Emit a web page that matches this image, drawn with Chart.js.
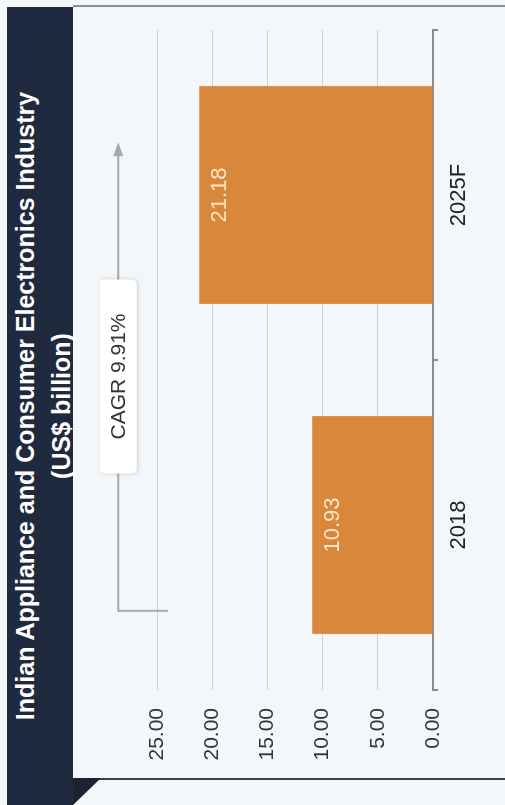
<!DOCTYPE html>
<html>
<head>
<meta charset="utf-8">
<script src="https://cdn.jsdelivr.net/npm/chart.js@4.4.1/dist/chart.umd.min.js"></script>
<style>
  body { margin: 0; width: 505px; height: 805px; overflow: hidden; background: #f5f8fa; font-family: "Liberation Sans", Arial, sans-serif; }
  /* the chart is laid out upright (805 x 505) and turned a quarter left */
  #stage { position: absolute; left: 0; top: 0; width: 805px; height: 505px; transform-origin: 0 0; transform: translate(0, 805px) rotate(-90deg); }
  #band { position: absolute; left: 0; top: 7px; width: 798px; height: 66px; background: #1f2a3e; color: #fff; font-weight: bold; font-size: 25px; line-height: 36px; text-align: center; white-space: nowrap; }
  #panel { position: absolute; left: 25px; top: 73px; width: 775px; height: 432px; background: #f3f7fa; border-left: 2px solid #3a3f48; border-right: 2px solid #8c8f94; box-sizing: border-box; }
  #fold { position: absolute; left: 0; top: 73px; width: 27px; height: 28px; background: #1b2230; clip-path: polygon(0 0, 100% 0, 100% 100%); }
  canvas { position: absolute; left: 0; top: 0; }
</style>
</head>
<body>
<div id="stage">
  <div id="panel"></div>
  <div id="band">Indian Appliance and Consumer Electronics Industry<br>(US$ billion)</div>
  <div id="fold"></div>
  <canvas id="marketChart" width="805" height="505"></canvas>
</div>
<script>
const years = ['2018', '2025F'];
const marketSize = [10.93, 21.18];
const valueTicks = [0, 5, 10, 15, 20, 25];
const cagrLabel = 'CAGR 9.91%';

const fontFamily = '"Liberation Sans", Arial, sans-serif';

// value printed inside the end of each bar
const barLabels = {
  id: 'barLabels',
  afterDatasetsDraw(chart) {
    const ctx = chart.ctx;
    const meta = chart.getDatasetMeta(0);
    ctx.save();
    ctx.font = '22px ' + fontFamily;
    ctx.fillStyle = '#fde5c6';
    ctx.textAlign = 'center';
    ctx.textBaseline = 'top';
    meta.data.forEach((bar, i) => {
      ctx.fillText(marketSize[i].toFixed(2), bar.x, bar.y + 10);
    });
    ctx.restore();
  }
};

// growth arrow with the CAGR box
const cagrArrow = {
  id: 'cagrArrow',
  afterDraw(chart) {
    const ctx = chart.ctx;
    const x = chart.scales.x;
    const y = chart.scales.y;
    const step = x.getPixelForValue(1) - x.getPixelForValue(0);
    const startX = x.getPixelForValue(0) - 0.26 * step;
    const endX = x.getPixelForValue(1) + 0.16 * step;
    const lineY = y.getPixelForValue(28.5);
    const legY = y.getPixelForValue(24);

    ctx.save();
    ctx.strokeStyle = '#a8a8a8';
    ctx.fillStyle = '#a8a8a8';
    ctx.lineWidth = 2;
    ctx.beginPath();
    ctx.moveTo(startX, legY);
    ctx.lineTo(startX, lineY);
    ctx.lineTo(endX - 12, lineY);
    ctx.stroke();
    ctx.beginPath();
    ctx.moveTo(endX, lineY);
    ctx.lineTo(endX - 14, lineY - 5);
    ctx.lineTo(endX - 14, lineY + 5);
    ctx.closePath();
    ctx.fill();

    const cx = (startX + endX) / 2;
    const w = 194, h = 37;
    ctx.shadowColor = 'rgba(0,0,0,0.18)';
    ctx.shadowBlur = 4;
    ctx.shadowOffsetY = 1;
    ctx.fillStyle = '#ffffff';
    ctx.beginPath();
    ctx.roundRect(cx - w / 2, lineY - h / 2, w, h, 5);
    ctx.fill();
    ctx.shadowColor = 'transparent';
    ctx.font = '21px ' + fontFamily;
    ctx.fillStyle = '#333333';
    ctx.textAlign = 'center';
    ctx.textBaseline = 'middle';
    ctx.fillText(cagrLabel, cx, lineY + 1);
    ctx.restore();
  }
};

new Chart(document.getElementById('marketChart'), {
  type: 'bar',
  data: {
    labels: years,
    datasets: [{
      data: marketSize,
      backgroundColor: '#d9873a',
      borderWidth: 0,
      barPercentage: 0.66,
      categoryPercentage: 1
    }]
  },
  options: {
    responsive: false,
    animation: false,
    devicePixelRatio: 1,
    layout: { padding: { left: 0, right: 30, top: 157, bottom: 0 } },
    plugins: {
      legend: { display: false },
      title: { display: false },
      tooltip: { enabled: false }
    },
    scales: {
      x: {
        grid: { offset: true, drawOnChartArea: false, drawTicks: true, tickLength: 5, color: '#8c8c8c', lineWidth: 2 },
        border: { color: '#8c8c8c', width: 2 },
        ticks: { color: '#222', padding: 8, font: { family: fontFamily, size: 22 } },
        afterFit(scale) { scale.height = 72; }
      },
      y: {
        min: valueTicks[0],
        max: valueTicks[valueTicks.length - 1],
        grid: { color: '#cfcfcf', lineWidth: 1, drawTicks: false },
        border: { display: false },
        ticks: {
          stepSize: valueTicks[1] - valueTicks[0],
          padding: 18,
          color: '#333',
          font: { family: fontFamily, size: 21 },
          callback: (v) => Number(v).toFixed(2)
        },
        afterFit(scale) { scale.width = 115; }
      }
    }
  },
  plugins: [barLabels, cagrArrow]
});
</script>
</body>
</html>
